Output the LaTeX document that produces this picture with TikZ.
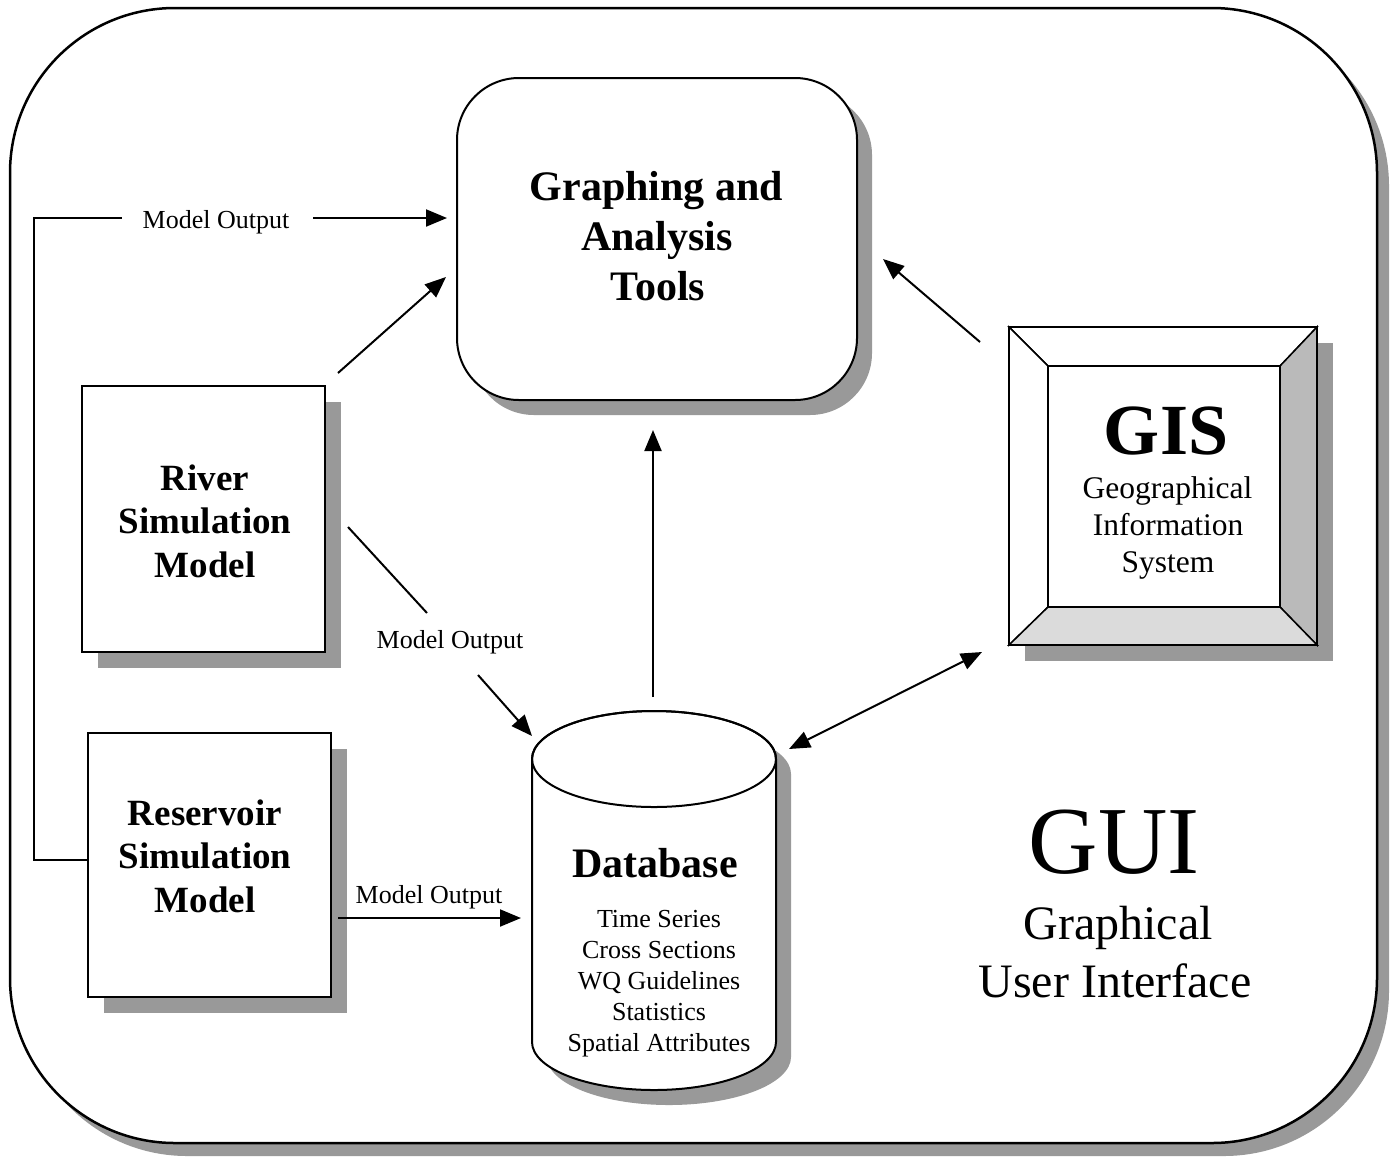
\documentclass[tikz,border=0pt]{standalone}
\usepackage{fontspec}
\setmainfont{Liberation Serif}
\usetikzlibrary{arrows.meta,shadows}

\tikzset{
  shadowfill/.style={fill=black!40},
  boxline/.style={draw=black,line width=2pt,fill=white},
  boxshadow/.style={drop shadow={shadow xshift=#1,shadow yshift=-#1,fill=black!40,opacity=1}},
  conn/.style={line width=2pt},
  arr/.style={conn,-{Triangle[length=21pt,width=17pt]}},
  dblarr/.style={conn,{Triangle[length=21pt,width=17pt]}-{Triangle[length=21pt,width=17pt]}},
  boldtxt/.style={anchor=base,inner sep=0pt,font=\bfseries\fontsize{#1}{#1}\selectfont},
  plaintxt/.style={anchor=base,inner sep=0pt,font=\fontsize{#1}{#1}\selectfont},
}

\begin{document}
\begin{tikzpicture}[x=1pt,y=-1pt,line join=miter]
\useasboundingbox (0,0) rectangle (1396,1160);
\fill[white] (0,0) rectangle (1396,1160);

% outer GUI frame with its shadow
\fill[shadowfill,rounded corners=165pt] (22,21) rectangle (1389,1156);
\filldraw[fill=white,draw=black,line width=2.5pt,rounded corners=165pt] (10,8) rectangle (1377,1143);

% graphing and analysis tools
\node[boxline,rounded corners=62pt,minimum width=400pt,minimum height=322pt,boxshadow=15pt] (gat) at (657,239) {};
\node[boldtxt=42] (gat1) at (656.5,200) {Graphing and};
\node[boldtxt=42] (gat2) at (657,250) {Analysis};
\node[boldtxt=42] (gat3) at (658,300) {Tools};

% simulation models
\node[boxline,minimum width=243pt,minimum height=266pt,boxshadow=16pt] (river) at (203.5,519) {};
\node[boldtxt=37] (river1) at (205,490) {River};
\node[boldtxt=37] (river2) at (205,533) {Simulation};
\node[boldtxt=37] (river3) at (205,577) {Model};

\node[boxline,minimum width=243pt,minimum height=264pt,boxshadow=16pt] (res) at (209.5,865) {};
\node[boldtxt=37] (res1) at (205,825) {Reservoir};
\node[boldtxt=37] (res2) at (205,868) {Simulation};
\node[boldtxt=37] (res3) at (205,912) {Model};

% database cylinder
\node[minimum width=244pt,minimum height=379pt,inner sep=0pt] (db) at (654,900.5) {};
\fill[shadowfill,shift={(15,15)}] (532,759) -- (532,1042)
  arc[start angle=180,end angle=360,x radius=122pt,y radius=48pt] -- (776,759)
  arc[start angle=0,end angle=180,x radius=122pt,y radius=48pt] -- cycle;
\filldraw[fill=white,draw=black,line width=2pt] (532,759) -- (532,1042)
  arc[start angle=180,end angle=360,x radius=122pt,y radius=48pt] -- (776,759)
  arc[start angle=0,end angle=180,x radius=122pt,y radius=48pt] -- cycle;
\draw[line width=2pt] (654,759) ellipse[x radius=122pt,y radius=48pt];
\node[boldtxt=42] (dbt) at (655,877) {Database};
\foreach \t [count=\i] in {Time Series,Cross Sections,WQ Guidelines,Statistics,Spatial Attributes}
  \node[plaintxt=26] (dbi\i) at (659,927+31*\i-31) {\t};

% GIS bevelled frame
\node[minimum width=308pt,minimum height=318pt,inner sep=0pt] (gis) at (1163,486) {};
\fill[shadowfill] (1025,343) rectangle (1333,661);
\filldraw[fill=white,draw=black,line width=1.5pt] (1009,327) -- (1317,327) -- (1280,366) -- (1048,366) -- cycle;
\filldraw[fill=white,draw=black,line width=1.5pt] (1009,327) -- (1048,366) -- (1048,607) -- (1009,645) -- cycle;
\filldraw[fill=black!27,draw=black,line width=1.5pt] (1317,327) -- (1317,645) -- (1280,607) -- (1280,366) -- cycle;
\filldraw[fill=black!14,draw=black,line width=1.5pt] (1009,645) -- (1317,645) -- (1280,607) -- (1048,607) -- cycle;
\draw[line width=2pt] (1009,327) rectangle (1317,645);
\filldraw[fill=white,draw=black,line width=1.5pt] (1048,366) rectangle (1280,607);
\node[boldtxt=72] (gis1) at (1166,454) {GIS};
\node[plaintxt=31.5] (gis2) at (1167.5,498) {Geographical};
\node[plaintxt=31.5] (gis3) at (1168,535) {Information};
\node[plaintxt=31.5] (gis4) at (1168,572) {System};

% GUI caption
\node[plaintxt=96] (gui1) at (1114,873) {GUI};
\node[plaintxt=48] (gui2) at (1118,939) {Graphical};
\node[plaintxt=48] (gui3) at (1115,997) {User Interface};

% connector labels
\node[plaintxt=26] (lbl1) at (216,228) {Model Output};
\node[plaintxt=26] (lbl2) at (450,648) {Model Output};
\node[plaintxt=26] (lbl3) at (429,903) {Model Output};

% connector end points
\coordinate (loopA) at (88,860);
\coordinate (loopB) at (34,860);
\coordinate (loopC) at (34,218);
\coordinate (loopD) at (122,218);
\coordinate (loopE) at (313,218);
\coordinate (loopF) at (447,218);
\coordinate (r2gA) at (338,373);
\coordinate (r2gB) at (446,277);
\coordinate (r2dA) at (348,527);
\coordinate (r2dB) at (427,613);
\coordinate (r2dC) at (478,675);
\coordinate (r2dD) at (532,736);
\coordinate (s2dA) at (338,918);
\coordinate (s2dB) at (521,918);
\coordinate (d2gA) at (653,697);
\coordinate (d2gB) at (653,430);
\coordinate (g2gA) at (980,342);
\coordinate (g2gB) at (883,259);
\coordinate (g2dA) at (789,749);
\coordinate (g2dB) at (982,652);

% connectors
\draw[conn] (loopA) -- (loopB) -- (loopC) -- (loopD);
\draw[arr] (loopE) -- (loopF);
\draw[arr] (r2gA) -- (r2gB);
\draw[conn] (r2dA) -- (r2dB);
\draw[arr] (r2dC) -- (r2dD);
\draw[arr] (s2dA) -- (s2dB);
\draw[arr] (d2gA) -- (d2gB);
\draw[arr] (g2gA) -- (g2gB);
\draw[dblarr] (g2dA) -- (g2dB);
\end{tikzpicture}
\end{document}
